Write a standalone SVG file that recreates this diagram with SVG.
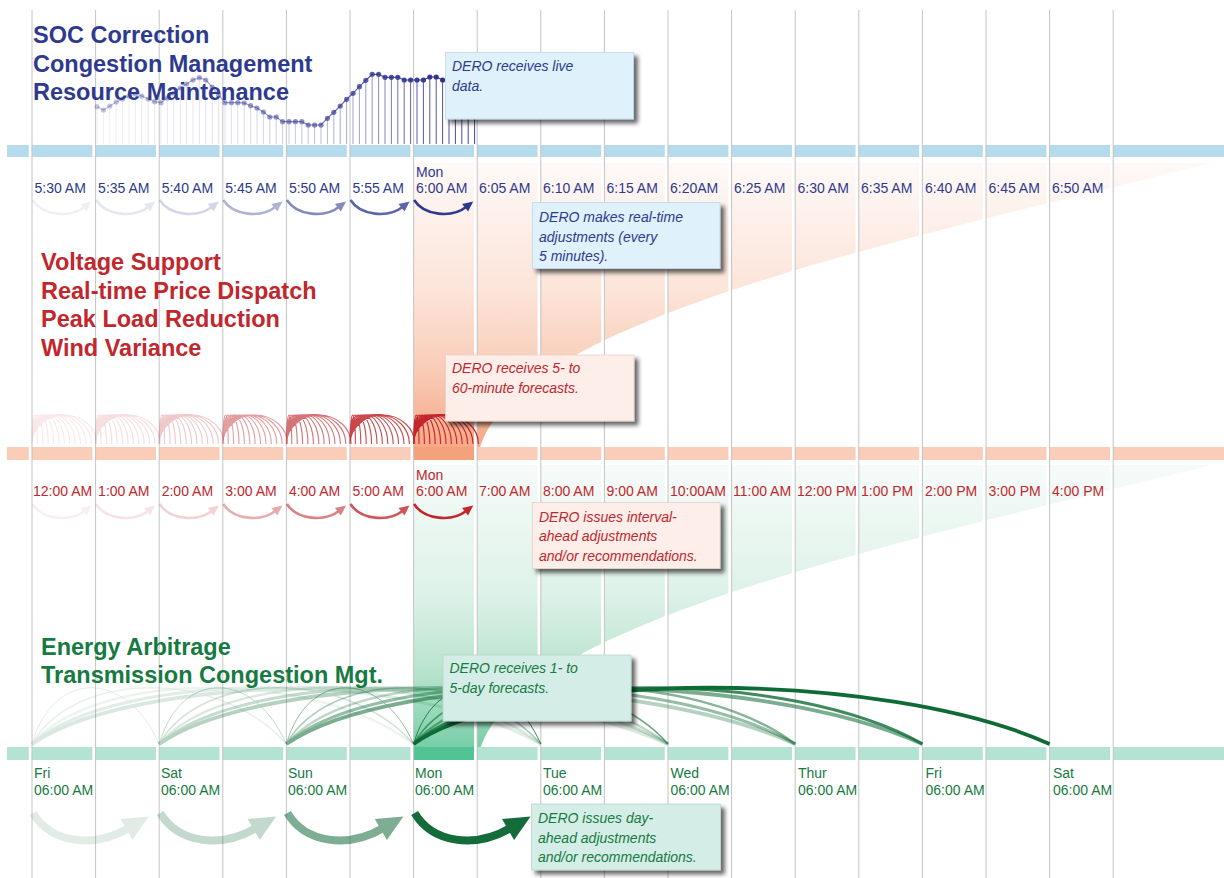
<svg xmlns="http://www.w3.org/2000/svg" xmlns:xlink="http://www.w3.org/1999/xlink" width="1224" height="878" viewBox="0 0 1224 878">
  <style>
    .ttl{font-family:"Liberation Sans",Arial,sans-serif;font-weight:bold;font-size:23.5px}
    .lbl{font-family:"Liberation Sans",Arial,sans-serif;font-size:14px}
    .note{font-family:"Liberation Sans",Arial,sans-serif;font-size:14px;font-style:italic}
    .navy{fill:#2e3a8f}
    .red{fill:#c1272d}
    .grn{fill:#167a41}
    .box{stroke-width:0.8;filter:url(#sh)}
    .grid{stroke:#c4c4c4;stroke-width:1}
  </style>
  <defs>
    <linearGradient id="pinkG" gradientUnits="userSpaceOnUse" x1="0" y1="163" x2="0" y2="447">
      <stop offset="0" stop-color="#fef9f7"/>
      <stop offset="0.45" stop-color="#fce4d9"/>
      <stop offset="0.72" stop-color="#f9cdb8"/>
      <stop offset="1" stop-color="#f5a886"/>
    </linearGradient>
    <linearGradient id="greenG" gradientUnits="userSpaceOnUse" x1="0" y1="465" x2="0" y2="749">
      <stop offset="0" stop-color="#f6fbf9"/>
      <stop offset="0.45" stop-color="#def2e8"/>
      <stop offset="0.7" stop-color="#bde5d1"/>
      <stop offset="0.9" stop-color="#92d6b6"/>
      <stop offset="1" stop-color="#74cea6"/>
    </linearGradient>
    <linearGradient id="dotG" gradientUnits="userSpaceOnUse" x1="97" y1="0" x2="443" y2="0">
      <stop offset="0" stop-color="#2e3192" stop-opacity="0.28"/>
      <stop offset="0.38" stop-color="#2e3192" stop-opacity="0.45"/>
      <stop offset="0.62" stop-color="#2e3192" stop-opacity="0.58"/>
      <stop offset="0.8" stop-color="#2e3192" stop-opacity="0.8"/>
      <stop offset="1" stop-color="#2e3192" stop-opacity="1"/>
    </linearGradient>
    <linearGradient id="stemG" gradientUnits="userSpaceOnUse" x1="97" y1="0" x2="475" y2="0">
      <stop offset="0" stop-color="#2e3192" stop-opacity="0.08"/>
      <stop offset="0.35" stop-color="#2e3192" stop-opacity="0.15"/>
      <stop offset="0.55" stop-color="#2e3192" stop-opacity="0.28"/>
      <stop offset="0.72" stop-color="#2e3192" stop-opacity="0.5"/>
      <stop offset="0.85" stop-color="#2e3192" stop-opacity="0.8"/>
      <stop offset="1" stop-color="#2e3192" stop-opacity="0.9"/>
    </linearGradient>
    <filter id="sh" x="-10%" y="-15%" width="130%" height="150%">
      <feDropShadow dx="4" dy="4" stdDeviation="2.2" flood-color="#000" flood-opacity="0.6"/>
    </filter>
    <!-- small curved step arrow (minutes / hours rows) -->
    <g id="arrSm">
      <path d="M0,0 C10,16 38,18 52,7" fill="none" stroke="currentColor" stroke-width="2.6"/>
      <polygon points="59.1,1.4 54,11.6 48,4" fill="currentColor"/>
    </g>
    <!-- large curved step arrow (days row) -->
    <g id="arrLg">
      <path d="M0,0 C18,30 60,36 96,15" fill="none" stroke="currentColor" stroke-width="8"/>
      <polygon points="116,3.4 99.5,26.9 87.4,6.1" fill="currentColor"/>
    </g>
    <!-- fan of 5..60 minute forecast arcs -->
    <path id="fan" fill="none" d="M0,0a2.7,29 0 0 1 5.4,0M0,0a5.4,29 0 0 1 10.8,0M0,0a8.1,29 0 0 1 16.2,0M0,0a10.8,29 0 0 1 21.6,0M0,0a13.5,29 0 0 1 27,0M0,0a16.2,29 0 0 1 32.4,0M0,0a18.9,29 0 0 1 37.8,0M0,0a21.6,29 0 0 1 43.2,0M0,0a24.3,29 0 0 1 48.6,0M0,0a27,29 0 0 1 54,0M0,0a29.7,29 0 0 1 59.4,0M0,0a32.4,29 0 0 1 64.8,0"/>
    <!-- 1..5 day forecast arcs -->
    <path id="d1" fill="none" d="M0,0C21.6,-75 94.1,-75 127.2,0"/>
    <path id="d2" fill="none" d="M0,0C43.2,-75 188.3,-75 254.4,0"/>
    <path id="d3" fill="none" d="M0,0C64.9,-75 282.4,-75 381.6,0"/>
    <path id="d4" fill="none" d="M0,0C86.5,-75 376.5,-75 508.8,0"/>
    <path id="d5" fill="none" d="M0,0C108.1,-75 470.6,-75 636,0"/>
    <g id="dayFan" stroke="#0f6b36">
      <use href="#d1" stroke-width="0.9" stroke-opacity="0.9"/>
      <use href="#d2" stroke-width="1.6" stroke-opacity="0.6"/>
      <use href="#d3" stroke-width="2.4" stroke-opacity="0.5"/>
      <use href="#d4" stroke-width="3" stroke-opacity="0.8"/>
      <use href="#d5" stroke-width="3.8" stroke-opacity="1"/>
    </g>
  </defs>

  <rect width="1224" height="878" fill="#ffffff"/>

  <!-- horizon wedges -->
  <g id="wedges">
    <path d="M413.6,163H1212C900,240 520,320 480,447L413.6,447Z" fill="url(#pinkG)"/>
    <path d="M413.6,465H1212C900,542 520,622 480,749L413.6,749Z" fill="url(#greenG)"/>
  </g>

  <!-- timeline bands -->
  <g id="bands">
    <rect x="7" y="145" width="1217" height="12" fill="#b6dbec"/>
    <rect x="7" y="447" width="1217" height="13" fill="#f9cdb7"/>
    <rect x="413.6" y="447" width="63.6" height="13" fill="#f4a27c"/>
    <rect x="7" y="747" width="1217" height="13" fill="#b4e3d4"/>
    <rect x="413.6" y="747" width="63.6" height="13" fill="#52c395"/>
  </g>

  <!-- column separators -->
  <g id="grid">
    <g fill="#ffffff">
      <rect x="28.8" y="10" width="3" height="868"/>
      <rect x="92.4" y="10" width="3" height="868"/>
      <rect x="156" y="10" width="3" height="868"/>
      <rect x="219.6" y="10" width="3" height="868"/>
      <rect x="283.2" y="10" width="3" height="868"/>
      <rect x="346.8" y="10" width="3" height="868"/>
      <rect x="410.4" y="10" width="3" height="868"/>
      <rect x="474" y="10" width="3" height="868"/>
      <rect x="537.6" y="10" width="3" height="868"/>
      <rect x="601.2" y="10" width="3" height="868"/>
      <rect x="664.8" y="10" width="3" height="868"/>
      <rect x="728.4" y="10" width="3" height="868"/>
      <rect x="792" y="10" width="3" height="868"/>
      <rect x="855.6" y="10" width="3" height="868"/>
      <rect x="919.2" y="10" width="3" height="868"/>
      <rect x="982.8" y="10" width="3" height="868"/>
      <rect x="1046.4" y="10" width="3" height="868"/>
      <rect x="1110" y="10" width="3" height="868"/>
    </g>
    <path class="grid" d="M32,10V878M95.6,10V878M159.2,10V878M222.8,10V878M286.4,10V878M350,10V878M413.6,10V878M477.2,10V878M540.8,10V878M604.4,10V878M668,10V878M731.6,10V878M795.2,10V878M858.8,10V878M922.4,10V878M986,10V878M1049.6,10V878M1113.2,10V878"/>
  </g>

  <!-- live data lollipop chart -->
  <g id="live-data">
    <path fill="none" stroke="url(#stemG)" stroke-width="1" d="M97,109V144M103.4,112V144M109.8,108V144M116.2,104V144M122.6,101V144M129,98V144M135.4,96V144M141.8,98V144M148.2,101V144M154.6,104V144M161,105V144M167.4,100V144M173.8,95V144M180.2,90V144M186.6,86V144M193,82V144M199.4,80V144M205.8,82V144M212.2,89V144M218.6,97V144M225,105V144M231.4,105V144M237.8,105V144M244.2,105V144M250.6,108V144M257,110V144M263.4,114V144M269.8,119V144M276.2,119V144M282.6,124V144M289,124V144M295.4,124V144M301.8,124V144M308.2,127V144M314.6,127V144M321,127V144M327.4,120V144M333.8,114V144M340.2,108V144M346.6,101V144M353,95V144M359.4,89V144M365.8,82V144M372.2,76V144M378.6,76V144M385,79V144M391.4,79V144M397.8,79V144M404.2,82V144M410.6,82V144M417,82V144M423.4,82V144M429.8,79V144M436.2,79V144M442.6,82V144M449,82V144M455.4,82V144M461.8,82V144M468.2,82V144M474.6,82V144"/>
    <polyline fill="none" stroke="url(#dotG)" stroke-width="1.2" points="97,106.7 103.4,110 109.8,106 116.2,102 122.6,99 129,96 135.4,94 141.8,96 148.2,99 154.6,101.7 161,102.7 167.4,98 173.8,93 180.2,88 186.6,84 193,80 199.4,77.7 205.8,80 212.2,87 218.6,95 225,102.7 231.4,102.7 237.8,102.7 244.2,103 250.6,105.7 257,108 263.4,112 269.8,117 276.2,117 282.6,121.7 289,121.7 295.4,121.7 301.8,121.7 308.2,125 314.6,125 321,125 327.4,118.3 333.8,112.3 340.2,106 346.6,99.3 353,93.3 359.4,86.7 365.8,80.3 372.2,74.3 378.6,74.3 385,77.3 391.4,77.3 397.8,77.3 404.2,80 410.6,80 417,80 423.4,80 429.8,77 436.2,77 442.6,80"/>
    <g fill="url(#dotG)">
      <circle cx="97" cy="106.7" r="2.6"/><circle cx="103.4" cy="110" r="2.6"/><circle cx="109.8" cy="106" r="2.6"/><circle cx="116.2" cy="102" r="2.6"/><circle cx="122.6" cy="99" r="2.6"/>
      <circle cx="129" cy="96" r="2.6"/><circle cx="135.4" cy="94" r="2.6"/><circle cx="141.8" cy="96" r="2.6"/><circle cx="148.2" cy="99" r="2.6"/><circle cx="154.6" cy="101.7" r="2.6"/>
      <circle cx="161" cy="102.7" r="2.6"/><circle cx="167.4" cy="98" r="2.6"/><circle cx="173.8" cy="93" r="2.6"/><circle cx="180.2" cy="88" r="2.6"/><circle cx="186.6" cy="84" r="2.6"/>
      <circle cx="193" cy="80" r="2.6"/><circle cx="199.4" cy="77.7" r="2.6"/><circle cx="205.8" cy="80" r="2.6"/><circle cx="212.2" cy="87" r="2.6"/><circle cx="218.6" cy="95" r="2.6"/>
      <circle cx="225" cy="102.7" r="2.6"/><circle cx="231.4" cy="102.7" r="2.6"/><circle cx="237.8" cy="102.7" r="2.6"/><circle cx="244.2" cy="103" r="2.6"/><circle cx="250.6" cy="105.7" r="2.6"/>
      <circle cx="257" cy="108" r="2.6"/><circle cx="263.4" cy="112" r="2.6"/><circle cx="269.8" cy="117" r="2.6"/><circle cx="276.2" cy="117" r="2.6"/><circle cx="282.6" cy="121.7" r="2.6"/>
      <circle cx="289" cy="121.7" r="2.6"/><circle cx="295.4" cy="121.7" r="2.6"/><circle cx="301.8" cy="121.7" r="2.6"/><circle cx="308.2" cy="125" r="2.6"/><circle cx="314.6" cy="125" r="2.6"/>
      <circle cx="321" cy="125" r="2.6"/><circle cx="327.4" cy="118.3" r="2.6"/><circle cx="333.8" cy="112.3" r="2.6"/><circle cx="340.2" cy="106" r="2.6"/><circle cx="346.6" cy="99.3" r="2.6"/>
      <circle cx="353" cy="93.3" r="2.6"/><circle cx="359.4" cy="86.7" r="2.6"/><circle cx="365.8" cy="80.3" r="2.6"/><circle cx="372.2" cy="74.3" r="2.6"/><circle cx="378.6" cy="74.3" r="2.6"/>
      <circle cx="385" cy="77.3" r="2.6"/><circle cx="391.4" cy="77.3" r="2.6"/><circle cx="397.8" cy="77.3" r="2.6"/><circle cx="404.2" cy="80" r="2.6"/><circle cx="410.6" cy="80" r="2.6"/>
      <circle cx="417" cy="80" r="2.6"/><circle cx="423.4" cy="80" r="2.6"/><circle cx="429.8" cy="77" r="2.6"/><circle cx="436.2" cy="77" r="2.6"/><circle cx="442.6" cy="80" r="2.6"/>
    </g>
  </g>

  <!-- connectors: forecast arcs -->
  <g id="connectors">
    <g id="minute-arcs" stroke="#c1272d" stroke-width="1.1" fill="none">
      <use href="#fan" x="32" y="444" opacity="0.1"/>
      <use href="#fan" x="95.6" y="444" opacity="0.15"/>
      <use href="#fan" x="159.2" y="444" opacity="0.25"/>
      <use href="#fan" x="222.8" y="444" opacity="0.45"/>
      <use href="#fan" x="286.4" y="444" opacity="0.65"/>
      <use href="#fan" x="350" y="444" opacity="0.85"/>
      <use href="#fan" x="413.6" y="444" opacity="1"/>
    </g>
    <g id="day-arcs" fill="none">
      <use href="#dayFan" x="32" y="744" opacity="0.15"/>
      <use href="#dayFan" x="159.2" y="744" opacity="0.3"/>
      <use href="#dayFan" x="286.4" y="744" opacity="0.55"/>
      <use href="#dayFan" x="413.6" y="744" opacity="1"/>
    </g>
    <g id="step-arrows">
      <use href="#arrSm" transform="translate(32.5,200)" color="#2e3a8f" opacity="0.07"/>
      <use href="#arrSm" transform="translate(96.1,200)" color="#2e3a8f" opacity="0.12"/>
      <use href="#arrSm" transform="translate(159.7,200)" color="#2e3a8f" opacity="0.2"/>
      <use href="#arrSm" transform="translate(223.3,200)" color="#2e3a8f" opacity="0.38"/>
      <use href="#arrSm" transform="translate(286.9,200)" color="#2e3a8f" opacity="0.58"/>
      <use href="#arrSm" transform="translate(350.5,200)" color="#2e3a8f" opacity="0.78"/>
      <use href="#arrSm" transform="translate(414.1,200)" color="#2e3a8f" opacity="1"/>
      <use href="#arrSm" transform="translate(32.5,504)" color="#c1272d" opacity="0.07"/>
      <use href="#arrSm" transform="translate(96.1,504)" color="#c1272d" opacity="0.12"/>
      <use href="#arrSm" transform="translate(159.7,504)" color="#c1272d" opacity="0.2"/>
      <use href="#arrSm" transform="translate(223.3,504)" color="#c1272d" opacity="0.38"/>
      <use href="#arrSm" transform="translate(286.9,504)" color="#c1272d" opacity="0.58"/>
      <use href="#arrSm" transform="translate(350.5,504)" color="#c1272d" opacity="0.78"/>
      <use href="#arrSm" transform="translate(414.1,504)" color="#c1272d" opacity="1"/>
      <use href="#arrLg" transform="translate(33,813)" color="#146c3b" opacity="0.12"/>
      <use href="#arrLg" transform="translate(160.2,813)" color="#146c3b" opacity="0.25"/>
      <use href="#arrLg" transform="translate(287.4,813)" color="#146c3b" opacity="0.55"/>
      <use href="#arrLg" transform="translate(414.6,813)" color="#146c3b" opacity="1"/>
    </g>
  </g>

  <!-- minute timeline -->
  <g id="minute-labels" class="lbl navy">
    <text x="34.5" y="192.7">5:30 AM</text>
    <text x="98.1" y="192.7">5:35 AM</text>
    <text x="161.7" y="192.7">5:40 AM</text>
    <text x="225.3" y="192.7">5:45 AM</text>
    <text x="288.9" y="192.7">5:50 AM</text>
    <text x="352.5" y="192.7">5:55 AM</text>
    <text x="416" y="177">Mon</text>
    <text x="416" y="192.7">6:00 AM</text>
    <text x="479" y="192.7">6:05 AM</text>
    <text x="543" y="192.7">6:10 AM</text>
    <text x="606.5" y="192.7">6:15 AM</text>
    <text x="670" y="192.7">6:20AM</text>
    <text x="734" y="192.7">6:25 AM</text>
    <text x="797.5" y="192.7">6:30 AM</text>
    <text x="861" y="192.7">6:35 AM</text>
    <text x="925" y="192.7">6:40 AM</text>
    <text x="988.5" y="192.7">6:45 AM</text>
    <text x="1052" y="192.7">6:50 AM</text>
  </g>

  <!-- hour timeline -->
  <g id="hour-labels" class="lbl red">
    <text x="33" y="496">12:00 AM</text>
    <text x="98.1" y="496">1:00 AM</text>
    <text x="161.7" y="496">2:00 AM</text>
    <text x="225.3" y="496">3:00 AM</text>
    <text x="288.9" y="496">4:00 AM</text>
    <text x="352.5" y="496">5:00 AM</text>
    <text x="416" y="480">Mon</text>
    <text x="416" y="496">6:00 AM</text>
    <text x="479" y="496">7:00 AM</text>
    <text x="543" y="496">8:00 AM</text>
    <text x="606.5" y="496">9:00 AM</text>
    <text x="670" y="496">10:00AM</text>
    <text x="733" y="496">11:00 AM</text>
    <text x="797" y="496">12:00 PM</text>
    <text x="861" y="496">1:00 PM</text>
    <text x="925" y="496">2:00 PM</text>
    <text x="988.5" y="496">3:00 PM</text>
    <text x="1052" y="496">4:00 PM</text>
  </g>

  <!-- day timeline -->
  <g id="day-labels" class="lbl grn">
    <text x="34" y="778">Fri</text><text x="34" y="795">06:00 AM</text>
    <text x="161" y="778">Sat</text><text x="161" y="795">06:00 AM</text>
    <text x="288" y="778">Sun</text><text x="288" y="795">06:00 AM</text>
    <text x="415" y="778">Mon</text><text x="415" y="795">06:00 AM</text>
    <text x="543" y="778">Tue</text><text x="543" y="795">06:00 AM</text>
    <text x="670.5" y="778">Wed</text><text x="670.5" y="795">06:00 AM</text>
    <text x="798" y="778">Thur</text><text x="798" y="795">06:00 AM</text>
    <text x="925.5" y="778">Fri</text><text x="925.5" y="795">06:00 AM</text>
    <text x="1053" y="778">Sat</text><text x="1053" y="795">06:00 AM</text>
  </g>

  <!-- application headings -->
  <g id="title-realtime" class="ttl navy">
    <text x="33" y="43.3">SOC Correction</text>
    <text x="33" y="71.5">Congestion Management</text>
    <text x="33" y="99.7">Resource Maintenance</text>
  </g>
  <g id="title-interval" class="ttl red">
    <text x="41" y="270">Voltage Support</text>
    <text x="41" y="298.5">Real-time Price Dispatch</text>
    <text x="41" y="327">Peak Load Reduction</text>
    <text x="41" y="355.5">Wind Variance</text>
  </g>
  <g id="title-dayahead" class="ttl grn">
    <text x="41" y="655">Energy Arbitrage</text>
    <text x="41" y="683">Transmission Congestion Mgt.</text>
  </g>

  <!-- callouts -->
  <g id="note-live">
    <rect class="box" x="445.5" y="52.5" width="188" height="66.5" fill="#dff1fb" stroke="#c3d8e3"/>
    <text class="note navy" x="452" y="70.5">DERO receives live</text>
    <text class="note navy" x="452" y="90.5">data.</text>
  </g>
  <g id="note-rt-adjust">
    <rect class="box" x="532.5" y="202.5" width="187.5" height="66" fill="#dff1fb" stroke="#c3d8e3"/>
    <text class="note navy" x="539" y="221.5">DERO makes real-time</text>
    <text class="note navy" x="539" y="241.5">adjustments (every</text>
    <text class="note navy" x="539" y="261">5 minutes).</text>
  </g>
  <g id="note-minute-fc">
    <rect class="box" x="445.5" y="355" width="188.5" height="66" fill="#fdeee9" stroke="#e8d2ca"/>
    <text class="note red" x="452" y="373.3">DERO receives 5- to</text>
    <text class="note red" x="452" y="393.3">60-minute forecasts.</text>
  </g>
  <g id="note-interval">
    <rect class="box" x="532.5" y="502.5" width="187.5" height="66" fill="#fdeee9" stroke="#e8d2ca"/>
    <text class="note red" x="539" y="521.5">DERO issues interval-</text>
    <text class="note red" x="539" y="541">ahead adjustments</text>
    <text class="note red" x="539" y="560.5">and/or recommendations.</text>
  </g>
  <g id="note-day-fc">
    <rect class="box" x="443" y="655" width="188" height="66" fill="#d4ede7" stroke="#bcd6cf"/>
    <text class="note grn" x="449.5" y="673.3">DERO receives 1- to</text>
    <text class="note grn" x="449.5" y="693.3">5-day forecasts.</text>
  </g>
  <g id="note-dayahead">
    <rect class="box" x="531.5" y="804" width="189" height="66" fill="#d4ede7" stroke="#bcd6cf"/>
    <text class="note grn" x="538" y="823">DERO issues day-</text>
    <text class="note grn" x="538" y="843">ahead adjustments</text>
    <text class="note grn" x="538" y="862">and/or recommendations.</text>
  </g>
</svg>
